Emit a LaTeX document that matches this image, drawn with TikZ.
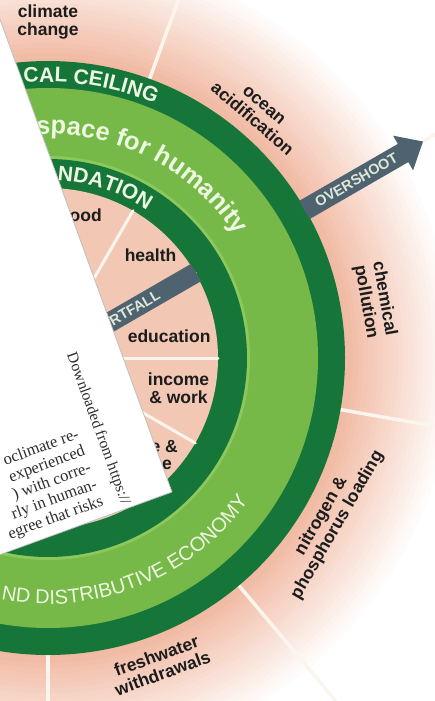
\documentclass[tikz,border=0pt]{standalone}
\usepackage{fontspec}
\setmainfont{Liberation Serif}
\setsansfont{Liberation Sans}
\usetikzlibrary{decorations.text}
\definecolor{ringdark}{RGB}{22,118,58}
\definecolor{ringlight}{RGB}{118,185,72}
\definecolor{ringedge}{RGB}{140,200,92}
\definecolor{socialbg}{RGB}{242,199,180}
\definecolor{rose}{RGB}{241,186,163}
\definecolor{slate}{RGB}{78,98,112}
\definecolor{cream}{RGB}{238,247,226}
\definecolor{divider}{RGB}{252,245,238}
\definecolor{ink}{RGB}{28,28,28}
\begin{document}
\begin{tikzpicture}[x=1pt, y=1pt, line join=round, line cap=round,
	planet/.style={font=\sffamily\bfseries\fontsize{17.5}{18.5}\selectfont, text=ink, align=center, inner sep=0pt},
	social/.style={planet},
	bartext/.style={font=\sffamily\bfseries\fontsize{14.5}{14.5}\selectfont, text=cream!90!slate, inner sep=0pt},
	page/.style={font=\rmfamily\fontsize{16.5}{16.5}\selectfont, text=black!82, inner sep=0pt}]
	\useasboundingbox (0,0) rectangle (435,-701);
	\clip (0,0) rectangle (435,-701);
	\begin{scope}[shift={(48,-358)}]
	% overshoot zone fading out, and its dividers
	\foreach \i in {0,...,22}{
		\pgfmathsetmacro\rad{410-5*\i}
		\pgfmathsetmacro\pct{min(100,4.6*\i)}
		\fill[rose!\pct!white] (0,0) circle (\rad);
	}
	\draw[divider, line width=3.5] (70:297)--(70:520);
	\draw[divider, line width=3.5] (30:297)--(30:520);
	\draw[divider, line width=3.5] (-10:297)--(-10:520);
	\draw[divider, line width=3.5] (-50:297)--(-50:520);
	\draw[divider, line width=3.5] (-90:297)--(-90:520);
	% the doughnut
	\fill[ringdark] (0,0) circle (297);
	\fill[ringlight] (0,0) circle (270);
	\fill[ringedge] (0,0) circle (202);
	\fill[ringdark] (0,0) circle (199);
	\fill[socialbg] (0,0) circle (170);
	\draw[divider, line width=3] (0,0)--(90:170);
	\draw[divider, line width=3] (0,0)--(60:170);
	\draw[divider, line width=3] (0,0)--(30:170);
	\draw[divider, line width=3] (0,0)--(0:170);
	\draw[divider, line width=3] (0,0)--(-30:170);
	\draw[divider, line width=3] (0,0)--(-60:170);
	% ring titles
	\path[decorate, decoration={text along path, text align=left, text color=cream,
		text={|\sffamily\bfseries\fontsize{21}{21}\selectfont|CAL CEILING}}]
		(95:276) arc[start angle=95, end angle=40, radius=276];
	\path[decorate, decoration={text along path, text align=left, text color=cream,
		text={|\sffamily\bfseries\fontsize{25.5}{25.5}\selectfont|space for humanity}}]
		(93:224) arc[start angle=93, end angle=20, radius=224];
	\path[decorate, decoration={text along path, text align=left, text color=cream,
		text={|\sffamily\bfseries\fontsize{21}{21}\selectfont|NDATION}}]
		(87:178) arc[start angle=87, end angle=40, radius=178];
	\path[decorate, decoration={text along path, text align=left, text color=cream,
		text={|\sffamily\fontsize{20}{20}\selectfont|ND DISTRIBUTIVE ECONOMY}}]
		(-101:246) arc[start angle=-101, end angle=-20, radius=246];
	% overshoot and shortfall bars
	\fill[slate, rotate=30] (296,-10.5)--(410,-10.5)--(410,-20)--(433,0)--(410,20)--(410,10.5)--(296,10.5)--cycle;
	\path (30:356) node[bartext, rotate=30] (overshoot) {OVERSHOOT};
	\fill[slate, rotate=30] (60,-10) rectangle (171,10);
	\path (30:128) node[bartext, rotate=30, anchor=east] (shortfall) {RTFALL};
	% planetary boundaries
	\path (90:336) node[planet] (climate) {climate\\change};
	\path (49.5:323) node[planet, rotate=-40.5] (ocean) {ocean\\acidification};
	\path (10:332) node[planet, rotate=-80] (chemical) {chemical\\pollution};
	\path (-30:325) node[planet, rotate=60] (nitrogen) {nitrogen \&\\phosphorus loading};
	\path (-70:326) node[planet, rotate=20] (freshwater) {freshwater\\withdrawals};
	% social foundation
	\path (45:145) node[social] (health) {health};
	\path (10:123) node[social] (education) {education};
	\path (-13:134) node[social] (income) {income\\\& work};
	\end{scope}
	\path (102,-221) node[social, anchor=base east] (food) {ood};
	\path (178,-452) node[social, anchor=base east] (peace) {e \&};
	\path (172,-469) node[social, anchor=base east] (justice) {ce};
	% torn journal page on top
	\begin{scope}[shift={(172,-492)}, rotate=20, transform shape]
	\fill[white] (-700,0) rectangle (0,800);
	\draw[black!25, line width=0.8] (-700,0)--(0,0)--(0,800);
	\path (-68,82) node[page, anchor=base east] (line1) {oclimate re-};
	\path (-68,64.25) node[page, anchor=base east] (line2) {experienced};
	\path (-68,46.5) node[page, anchor=base east] (line3) {) with corre-};
	\path (-68,28.75) node[page, anchor=base east] (line4) {rly in human-};
	\path (-68,11) node[page, anchor=base east] (line5) {egree that risks};
	\path (-48,165) node[page, rotate=-90, anchor=west, font=\rmfamily\fontsize{15.5}{15.5}\selectfont] (stamp) {Downloaded from https://};
	\end{scope}
\end{tikzpicture}
\end{document}
